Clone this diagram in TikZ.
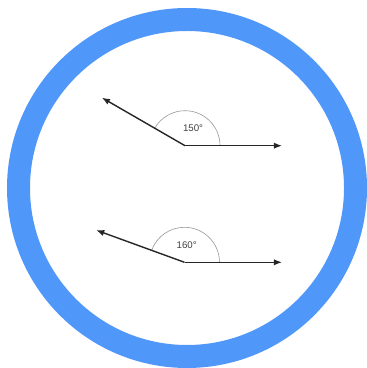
\documentclass[tikz,border=0pt]{standalone}
\usepackage{fontspec}
\setmainfont{Liberation Sans}
\usetikzlibrary{arrows.meta, positioning, calc}
\definecolor{ringblue}{RGB}{80,151,250}

\begin{document}
\begin{tikzpicture}[
  x=0.02cm, y=0.02cm,
  ray/.style={draw=black!85, line width=0.8pt, -{Latex[length=4.6pt, width=3.6pt]}},
  arcline/.style={draw=black!40, line width=0.35pt},
  deg/.style={font=\fontsize{5.5}{6}\selectfont, text=black!75, inner sep=0pt}
]
  \useasboundingbox (0,0) rectangle (366,368);
  \draw[ringblue, line width=0.46cm] (187,180) circle[radius=168.5];

  % first angle
  \coordinate (vA) at (185,222.3);
  \coordinate (rA) at (282,222.3);
  \coordinate (lA) at ($(vA)+(150:96)$);
  \draw[arcline] ($(vA)+(0:35)$) arc[start angle=0, end angle=150, radius=35];
  \draw[ray] (vA) -- (rA);
  \draw[ray] (vA) -- (lA);
  \node[deg] (labA) at (193,240.3) {150°};

  % second angle
  \coordinate (vB) at (184.5,105.7);
  \coordinate (rB) at (282,105.7);
  \coordinate (lB) at ($(vB)+(160:94)$);
  \draw[arcline] ($(vB)+(0:35)$) arc[start angle=0, end angle=160, radius=35];
  \draw[ray] (vB) -- (rB);
  \draw[ray] (vB) -- (lB);
  \node[deg] (labB) at (186.7,123) {160°};
\end{tikzpicture}
\end{document}
